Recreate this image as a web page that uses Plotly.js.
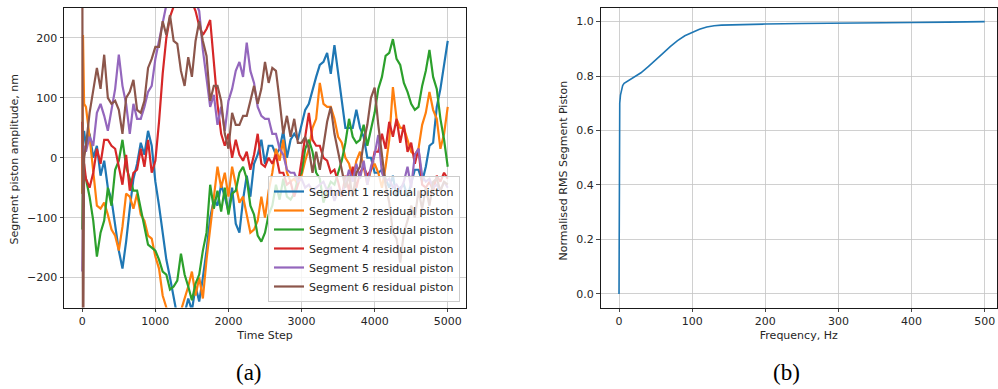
<!DOCTYPE html>
<html>
<head>
<meta charset="utf-8">
<script src="https://cdn.plot.ly/plotly-3.0.1.min.js"></script>
<style>html,body{margin:0;padding:0;background:#fff;}#chart{width:998px;height:389px;}</style>
</head>
<body>
<div id="chart"></div>
<script>
// ---- Data ----
const timeStep = [0, 10, 25,
  50, 100, 150, 200, 250, 300, 350, 400, 450, 500,
  550, 600, 650, 700, 750, 800, 850, 900, 950, 1000,
  1050, 1100, 1150, 1200, 1250, 1300, 1350, 1400, 1450, 1500,
  1550, 1600, 1650, 1700, 1750, 1800, 1850, 1900, 1950, 2000,
  2050, 2100, 2150, 2200, 2250, 2300, 2350, 2400, 2450, 2500,
  2550, 2600, 2650, 2700, 2750, 2800, 2850, 2900, 2950, 3000,
  3050, 3100, 3150, 3200, 3250, 3300, 3350, 3400, 3450, 3500,
  3550, 3600, 3650, 3700, 3750, 3800, 3850, 3900, 3950, 4000,
  4050, 4100, 4150, 4200, 4250, 4300, 4350, 4400, 4450, 4500,
  4550, 4600, 4650, 4700, 4750, 4800, 4850, 4900, 4950, 5000];

const seg1 = [-60, 30, 45,
  20, 40, 0, 20, -30, -5, -50, -70, -115, -155,
  -185, -140, -85, -35, -10, 25, 5, 45, 20, -40,
  -80, -125, -170, -200, -230, -265, -280, -260, -235, -255,
  -215, -240, -200, -155, -100, -70, -80, -45, -65, -90,
  -50, -110, -125, -70, -30, -65, -10, 5, 30, -10,
  20, 20, 5, 15, 45, 0, 30, 40, 30, 55,
  80, 90, 115, 135, 155, 160, 175, 140, 188, 140,
  95, 50, 50, 50, 80, 50, 35, 0, 0, -25,
  -25, -20, -35, -50, -30, -65, -50, -45, -65, -40,
  -20, -20, -40, -15, 20, 25, 85, 115, 155, 195];

const seg2 = [-60, 205, 90,
  85, 35, -25, -80, -85, -75, -95, -120, -130, -155,
  -115, -60, -65, -85, -60, -95, -105, -130, -135, -165,
  -185, -230, -250, -270, -260, -275, -255, -235, -215, -190,
  -230, -200, -235, -170, -120, -70, -15, -50, -25, -65,
  -15, -45, -75, -65, -95, -125, -120, -105, -65, -100,
  -55, -25, 15, -5, 30, -25, -40, -35, -45, -30,
  -5, 15, 50, 65, 125, 90, 85, 85, 65, 35,
  25, 0, -10, -35, -5, 10, -15, -45, -20, -10,
  -25, -50, -15, 30, 118, 65, 50, 50, 30, 10,
  5, 15, 55, 75, 110, 80, 65, 15, 40, 85];

const seg3 = [-120, -40, -25,
  -35, -65, -105, -165, -125, -105, -50, -80, -20, -5,
  30, -15, -35, -55, -55, -85, -110, -145, -150, -155,
  -170, -190, -195, -220, -215, -205, -160, -195, -215, -238,
  -210, -195, -155, -125, -45, -85, -55, -90, -50, -95,
  -60, -55, -25, -15, -35, -80, -95, -130, -140, -125,
  -95, -80, -45, -70, -35, -65, -70, -60, -35, -25,
  15, 30, 10, -25, -35, -75, -55, -40, -45, -25,
  -5, 25, 65, 35, 25, 30, 55, 20, 50, 75,
  115, 135, 170, 175, 198, 165, 155, 125, 110, 90,
  80, 85, 120, 145, 180, 135, 115, 65, 30, -15];

const seg4 = [60, -40, -10,
  -35, -50, -25, 15, -10, 30, 30, 20, 15, -15,
  -45, 5, -55, -25, -20, 15, -15, 30, -25, -5,
  60, 140, 200, 235, 255, 270, 265, 280, 270, 260,
  245, 220, 205, 215, 230, 160, 90, 40, 20, 40,
  0, 30, 5, -5, 10, -20, 5, 40, -10, -15,
  0, -10, 5, -25, -25, -45, -40, -65, -45, -5,
  35, 75, 30, 20, 20, 0, -5, -25, -20, -40,
  -65, -30, -55, -15, -50, -25, -15, -30, -20, 10,
  10, 40, 15, 60, 35, 65, 25, 55, 10, 25,
  -10, 15, -45, -50, -40, -55, -30, -40, -25, -35];

const seg5 = [-190, -60, 20,
  10, 35, 20, 75, 90, 70, 45, 80, 115, 172,
  120, 90, 40, 90, 65, 65, 85, 110, 120, 165,
  195, 230, 255, 270, 280, 265, 270, 255, 265, 275,
  260, 245, 180, 130, 85, 105, 55, 85, 45, 95,
  115, 145, 160, 135, 192, 145, 125, 85, 70, 65,
  65, 40, 40, 15, 5, -20, -25, -25, -40, -35,
  -50, -45, -55, -50, -45, -40, -55, -50, -72, -55,
  -60, -45, -20, -40, -10, -35, -5, -45, -15, 5,
  38, -25, -40, -35, -50, -45, -55, -40, -15, -50,
  5, 15, -30, -40, -35, -50, -45, -55, -40, -50];

const seg6 = [400, -400, 0,
  20, 75, 110, 150, 115, 172, 100, 90, 95, 80,
  40, 100, 110, 130, 80, 75, 95, 150, 165, 185,
  185, 228, 205, 238, 195, 190, 145, 120, 168, 135,
  195, 228, 195, 170, 95, 120, 120, 95, 40, 15,
  75, 55, 55, 70, 70, 95, 120, 90, 115, 160,
  125, 150, 145, 95, 40, 70, 35, 65, 25, 25,
  35, 15, -25, 10, -20, 20, 60, 85, 40, 10,
  -20, -50, -30, -65, -25, -15, 25, 55, 100, 117,
  55, 5, -45, -75, -125, -135, -175, -125, -105, -80,
  -100, -55, -85, -50, -80, -40, -35, -55, -40, -45];

const segNames = ['Segment 1 residual piston', 'Segment 2 residual piston', 'Segment 3 residual piston',
                  'Segment 4 residual piston', 'Segment 5 residual piston', 'Segment 6 residual piston'];

const freqHz = [0, 0.5, 1, 2, 3, 5, 7, 10, 15, 20, 30, 40, 50, 60, 70, 80, 90, 100,
  110, 120, 130, 140, 150, 175, 200, 250, 300, 350, 400, 450, 500];
const rmsNorm = [0, 0.55, 0.70, 0.73, 0.745, 0.765, 0.773, 0.778, 0.786, 0.793, 0.812, 0.835, 0.858,
  0.883, 0.908, 0.930, 0.948, 0.961, 0.972, 0.980, 0.985, 0.987, 0.988, 0.989, 0.991, 0.993,
  0.995, 0.996, 0.997, 0.998, 1.0];

const xTicksA = [0, 1000, 2000, 3000, 4000, 5000];
const yTicksA = [-200, -100, 0, 100, 200];
const yTickTextA = ['\u2212200', '\u2212100', '0', '100', '200'];
const xTicksB = [0, 100, 200, 300, 400, 500];
const yTicksB = [0, 0.2, 0.4, 0.6, 0.8, 1.0];

// ---- Styles ----
const colors = ['#1f77b4', '#ff7f0e', '#2ca02c', '#d62728', '#9467bd', '#8c564b'];
const series = [seg1, seg2, seg3, seg4, seg5, seg6];

const traces = series.map((s, i) => ({
  type: 'scatter', mode: 'lines', x: timeStep, y: s, name: segNames[i],
  line: {color: colors[i], width: 2.2}, xaxis: 'x', yaxis: 'y', hoverinfo: 'skip'
}));
traces.push({
  type: 'scatter', mode: 'lines', x: freqHz, y: rmsNorm, showlegend: false,
  line: {color: '#1f77b4', width: 1.6}, xaxis: 'x2', yaxis: 'y2', hoverinfo: 'skip'
});

const axisCommon = {
  showgrid: true, gridcolor: '#c4c4c4', gridwidth: 0.8, zeroline: false,
  showline: true, mirror: true, linecolor: '#1a1a1a', linewidth: 1,
  ticks: 'outside', ticklen: 3.5, tickwidth: 0.8, tickcolor: '#1a1a1a',
  tickfont: {family: 'DejaVu Sans', size: 11, color: '#262626'}, automargin: false
};

const W = 998, H = 389;
const layout = {
  width: W, height: H,
  margin: {l: 0, r: 0, t: 0, b: 0},
  paper_bgcolor: '#ffffff', plot_bgcolor: '#ffffff',
  font: {family: 'DejaVu Sans', size: 11, color: '#262626'},
  showlegend: true,
  legend: {
    x: 460 / W, y: (H - 302) / H, xanchor: 'right', yanchor: 'bottom',
    bgcolor: 'rgba(255,255,255,0.8)', bordercolor: '#cccccc', borderwidth: 1,
    font: {family: 'DejaVu Sans', size: 11, color: '#262626'}, tracegroupgap: 0
  },
  xaxis: Object.assign({}, axisCommon, {
    domain: [64 / W, 466 / W], range: [-250, 5250], tickvals: xTicksA,
    title: {text: 'Time Step', font: {family: 'DejaVu Sans', size: 11, color: '#262626'}, standoff: 4},
    anchor: 'y'
  }),
  yaxis: Object.assign({}, axisCommon, {
    domain: [(H - 307.5) / H, (H - 8) / H], range: [-250, 250],
    tickvals: yTicksA, ticktext: yTickTextA, anchor: 'x'
  }),
  xaxis2: Object.assign({}, axisCommon, {
    domain: [600.5 / W, 997 / W], range: [-25.3, 516.8], tickvals: xTicksB,
    title: {text: 'Frequency, Hz', font: {family: 'DejaVu Sans', size: 11, color: '#262626'}, standoff: 4},
    anchor: 'y2'
  }),
  yaxis2: Object.assign({}, axisCommon, {
    domain: [(H - 307.5) / H, (H - 8) / H], range: [-0.05, 1.05],
    tickvals: yTicksB, tickformat: '.1f', anchor: 'x2'
  }),
  annotations: [
    {text: 'Segment piston amplitude, nm', xref: 'paper', yref: 'paper', x: 13.5 / W, y: (H - 159) / H,
     xanchor: 'center', yanchor: 'middle', textangle: -90, showarrow: false,
     font: {family: 'DejaVu Sans', size: 11, color: '#262626'}},
    {text: 'Normalised RMS Segment Piston', xref: 'paper', yref: 'paper', x: 562.5 / W, y: (H - 171) / H,
     xanchor: 'center', yanchor: 'middle', textangle: -90, showarrow: false,
     font: {family: 'DejaVu Sans', size: 11, color: '#262626'}},
    {text: '(a)', xref: 'paper', yref: 'paper', x: 249 / W, y: (H - 372) / H,
     xanchor: 'center', yanchor: 'middle', showarrow: false,
     font: {family: 'Liberation Serif', size: 23, color: '#000'}},
    {text: '(b)', xref: 'paper', yref: 'paper', x: 786 / W, y: (H - 372) / H,
     xanchor: 'center', yanchor: 'middle', showarrow: false,
     font: {family: 'Liberation Serif', size: 23, color: '#000'}}
  ]
};

Plotly.newPlot('chart', traces, layout, {staticPlot: true, displayModeBar: false});
</script>
</body>
</html>
